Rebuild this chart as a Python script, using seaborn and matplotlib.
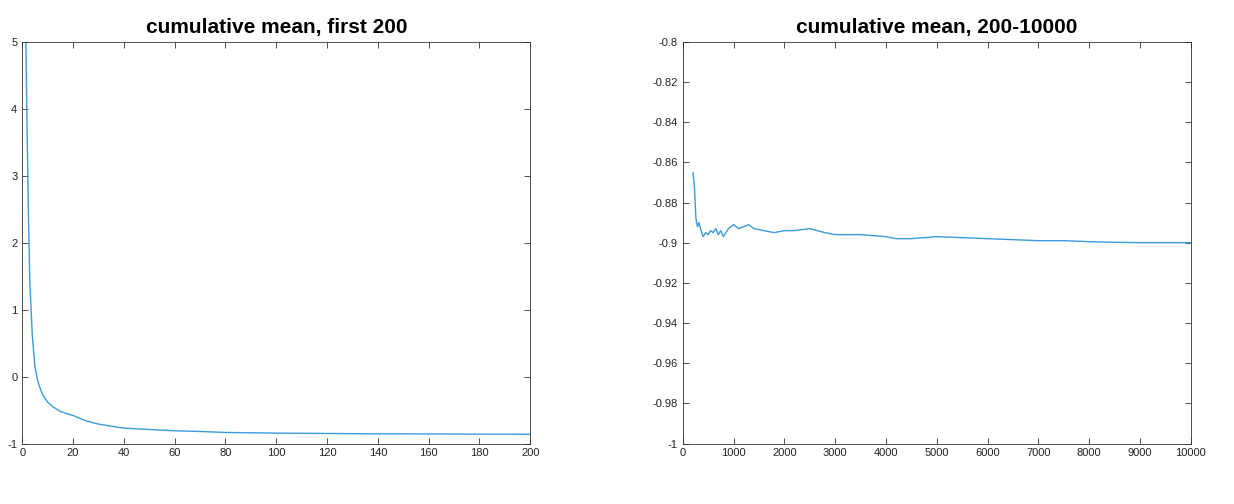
import matplotlib
matplotlib.use("Agg")
import matplotlib.pyplot as plt
import seaborn as sns
import pandas as pd

sns.set_style("white")
plt.rcParams['font.family'] = ['Liberation Sans', 'DejaVu Sans']

left_x = [1, 1.5, 2, 2.5, 3, 4, 5, 6, 7, 8, 10, 12, 15, 18, 20, 25, 30, 35, 40, 50, 60, 70, 80, 90, 100, 120, 140, 160, 180, 200]
left_y = [6.0, 4.8, 3.5, 2.3, 1.4, 0.6, 0.15, -0.05, -0.17, -0.27, -0.38, -0.45, -0.52, -0.56, -0.58, -0.66, -0.71, -0.74, -0.77, -0.79, -0.81, -0.82, -0.835, -0.84, -0.845, -0.85, -0.855, -0.857, -0.86, -0.862]

right_x = [200, 230, 260, 290, 320, 350, 400, 450, 500, 550, 600, 650, 700, 750, 800, 850, 900, 1000, 1100, 1200, 1300, 1400, 1600, 1800, 2000, 2200, 2500, 2800, 3000, 3500, 4000, 4200, 4500, 5000, 5500, 6000, 6500, 7000, 7500, 8000, 8500, 9000, 9500, 10000]
right_y = [-0.865, -0.872, -0.888, -0.892, -0.890, -0.893, -0.897, -0.895, -0.896, -0.894, -0.895, -0.893, -0.896, -0.894, -0.897, -0.895, -0.893, -0.891, -0.893, -0.892, -0.891, -0.893, -0.894, -0.895, -0.894, -0.894, -0.893, -0.895, -0.896, -0.896, -0.897, -0.898, -0.898, -0.897, -0.8975, -0.898, -0.8985, -0.899, -0.899, -0.8995, -0.8998, -0.9, -0.9, -0.9]

fig, axes = plt.subplots(1, 2, figsize=(12.34, 5.04), dpi=100)
fig.subplots_adjust(left=0.018, right=0.965, top=0.917, bottom=0.12, wspace=0.3)
c = "#3a9bdc"
sns.lineplot(x=left_x, y=left_y, ax=axes[0], color=c, lw=1)
sns.lineplot(x=right_x, y=right_y, ax=axes[1], color=c, lw=1)
axes[0].set_xlim(0, 200); axes[0].set_ylim(-1, 5)
axes[0].set_xticks(range(0, 201, 20)); axes[0].set_yticks(range(-1, 6))
axes[0].set_yticklabels([str(v) for v in range(-1, 6)])
axes[1].set_xlim(0, 10000); axes[1].set_ylim(-1, -0.8)
axes[1].set_xticks(range(0, 10001, 1000))
yt = [-1 + 0.02 * i for i in range(11)]
axes[1].set_yticks(yt)
axes[1].set_yticklabels(["-1", "-0.98", "-0.96", "-0.94", "-0.92", "-0.9", "-0.88", "-0.86", "-0.84", "-0.82", "-0.8"])
axes[0].set_title("cumulative mean, first 200", fontsize=15, fontweight='bold', color='black')
axes[1].set_title("cumulative mean, 200-10000", fontsize=15, fontweight='bold', color='black')
for ax in axes:
    ax.tick_params(direction='in', top=True, right=True, bottom=True, left=True,
                   labelsize=8, length=4, width=0.6, colors='#333333', labelcolor='#222222')
    for s in ax.spines.values():
        s.set_color('#333333'); s.set_linewidth(0.6)
fig.savefig("out.png")
